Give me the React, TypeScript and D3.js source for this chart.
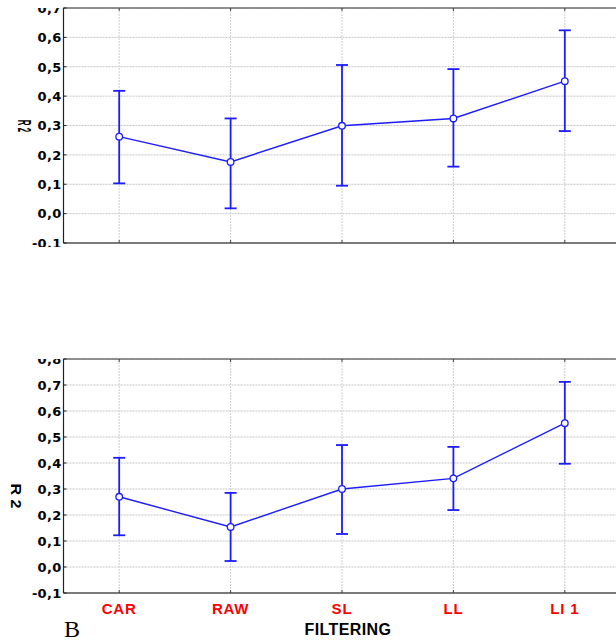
import React from 'react';
import * as d3 from 'd3';

const categories = ['CAR', 'RAW', 'SL', 'LL', 'LI 1'];

const topMeans = [0.262, 0.176, 0.299, 0.324, 0.451];
const topUpper = [0.418, 0.324, 0.506, 0.492, 0.624];
const topLower = [0.103, 0.018, 0.095, 0.16, 0.281];
const topTicks = [-0.1, 0, 0.1, 0.2, 0.3, 0.4, 0.5, 0.6, 0.7];

const bottomMeans = [0.27, 0.154, 0.3, 0.341, 0.553];
const bottomUpper = [0.42, 0.285, 0.469, 0.462, 0.712];
const bottomLower = [0.122, 0.023, 0.127, 0.219, 0.397];
const bottomTicks = [-0.1, 0, 0.1, 0.2, 0.3, 0.4, 0.5, 0.6, 0.7, 0.8];

const BLUE = '#1c1cff';
const LEFT = 63.5;
const RIGHT = 620.5;

const fmt = d3.formatLocale({ decimal: ',', thousands: '.', grouping: [3], currency: ['', ''], minus: '-' }).format('.1f');
const x = d3.scalePoint<string>().domain(categories).range([LEFT, RIGHT]).padding(0.5);

const sans = '"Liberation Sans", Arial, sans-serif';
const tickFont = '"DejaVu Sans", sans-serif';

type PanelProps = {
  id: string;
  top: number;
  bottom: number;
  ticks: number[];
  means: number[];
  upper: number[];
  lower: number[];
  labelClipBottom: number;
  yLabel: { x: number; y: number; sx: number; size: number };
};

const Panel = ({ id, top, bottom, ticks, means, upper, lower, labelClipBottom, yLabel }: PanelProps) => {
  const y = d3.scaleLinear().domain([ticks[0], ticks[ticks.length - 1]]).range([bottom, top]);
  const line = d3
    .line<number>()
    .x((_, i) => x(categories[i])!)
    .y(d => y(d));

  return (
    <g>
      <defs>
        <clipPath id={`clip-${id}`}>
          <rect x={0} y={top} width={LEFT} height={labelClipBottom - top} />
        </clipPath>
      </defs>
      {/* grid */}
      {ticks.map(t => (
        <line key={`h${t}`} x1={LEFT} x2={RIGHT} y1={y(t)} y2={y(t)} stroke="#c4c4c4" strokeDasharray="2,1" />
      ))}
      {categories.map(c => (
        <line key={`v${c}`} x1={x(c)} x2={x(c)} y1={top} y2={bottom} stroke="#cfcfcf" strokeDasharray="2,1" />
      ))}
      {/* frame */}
      <line x1={LEFT} x2={RIGHT} y1={top} y2={top} stroke="#333" strokeWidth={1.2} />
      <line x1={LEFT} x2={RIGHT} y1={bottom} y2={bottom} stroke="#555" strokeWidth={1.5} />
      <line x1={LEFT} x2={LEFT} y1={top} y2={bottom} stroke="#222" strokeWidth={1.2} />
      {ticks.map(t => (
        <line key={`t${t}`} x1={LEFT} x2={LEFT + 3} y1={y(t)} y2={y(t)} stroke="#222" />
      ))}
      {categories.map(c => (
        <g key={`xt${c}`}>
          <line x1={x(c)} x2={x(c)} y1={bottom} y2={bottom - 3} stroke="#444" />
          <line x1={x(c)} x2={x(c)} y1={top} y2={top + 3} stroke="#444" />
        </g>
      ))}
      {/* tick labels */}
      <g clipPath={`url(#clip-${id})`}>
        {ticks.map(t => (
          <text
            key={`l${t}`}
            x={61.5}
            y={y(t)}
            dy="0.37em"
            textAnchor="end"
            fontFamily={tickFont}
            fontWeight="bold"
            fontSize={13}
            letterSpacing={0.3}
          >
            {fmt(t)}
          </text>
        ))}
      </g>
      <text
        transform={`translate(${yLabel.x},${yLabel.y}) rotate(90) scale(${yLabel.sx},1)`}
        textAnchor="middle"
        dy="0.36em"
        fontFamily={sans}
        fontWeight="bold"
        fontSize={yLabel.size}
      >
        R 2
      </text>
      {/* error bars */}
      {categories.map((c, i) => (
        <g key={`e${c}`} stroke={BLUE} strokeWidth={1.8}>
          <line x1={x(c)} x2={x(c)} y1={y(upper[i])} y2={y(lower[i])} />
          <line x1={x(c)! - 6} x2={x(c)! + 6} y1={y(upper[i])} y2={y(upper[i])} />
          <line x1={x(c)! - 6} x2={x(c)! + 6} y1={y(lower[i])} y2={y(lower[i])} />
        </g>
      ))}
      <path d={line(means)!} fill="none" stroke={BLUE} strokeWidth={1.4} />
      {means.map((m, i) => (
        <circle key={`p${i}`} cx={x(categories[i])} cy={y(m)} r={3.3} fill="#fff" stroke={BLUE} strokeWidth={1.3} />
      ))}
    </g>
  );
};

export default function App() {
  return (
    <svg
      width={616}
      height={641}
      style={{ position: 'absolute', left: 0, top: 0, display: 'block', background: '#fff' }}
    >
      <rect width={616} height={641} fill="#fff" />
      <Panel
        id="a"
        top={8}
        bottom={243}
        ticks={topTicks}
        means={topMeans}
        upper={topUpper}
        lower={topLower}
        labelClipBottom={247}
        yLabel={{ x: 24, y: 126, sx: 0.44, size: 18 }}
      />
      <Panel
        id="b"
        top={359}
        bottom={593}
        ticks={bottomTicks}
        means={bottomMeans}
        upper={bottomUpper}
        lower={bottomLower}
        labelClipBottom={600}
        yLabel={{ x: 16, y: 496, sx: 1.15, size: 14 }}
      />
      {categories.map(c => (
        <text
          key={c}
          x={x(c)}
          y={613.5}
          textAnchor="middle"
          fill="#ff0000"
          fontFamily={sans}
          fontWeight="bold"
          fontSize={15}
          letterSpacing={0.8}
        >
          {c}
        </text>
      ))}
      <text x={348} y={634.5} textAnchor="middle" fontFamily={sans} fontWeight="bold" fontSize={16} letterSpacing={0.4}>
        FILTERING
      </text>
      <text x={64} y={637} fontFamily='"Liberation Serif", "Times New Roman", serif' fontSize={24}>
        B
      </text>
    </svg>
  );
}
